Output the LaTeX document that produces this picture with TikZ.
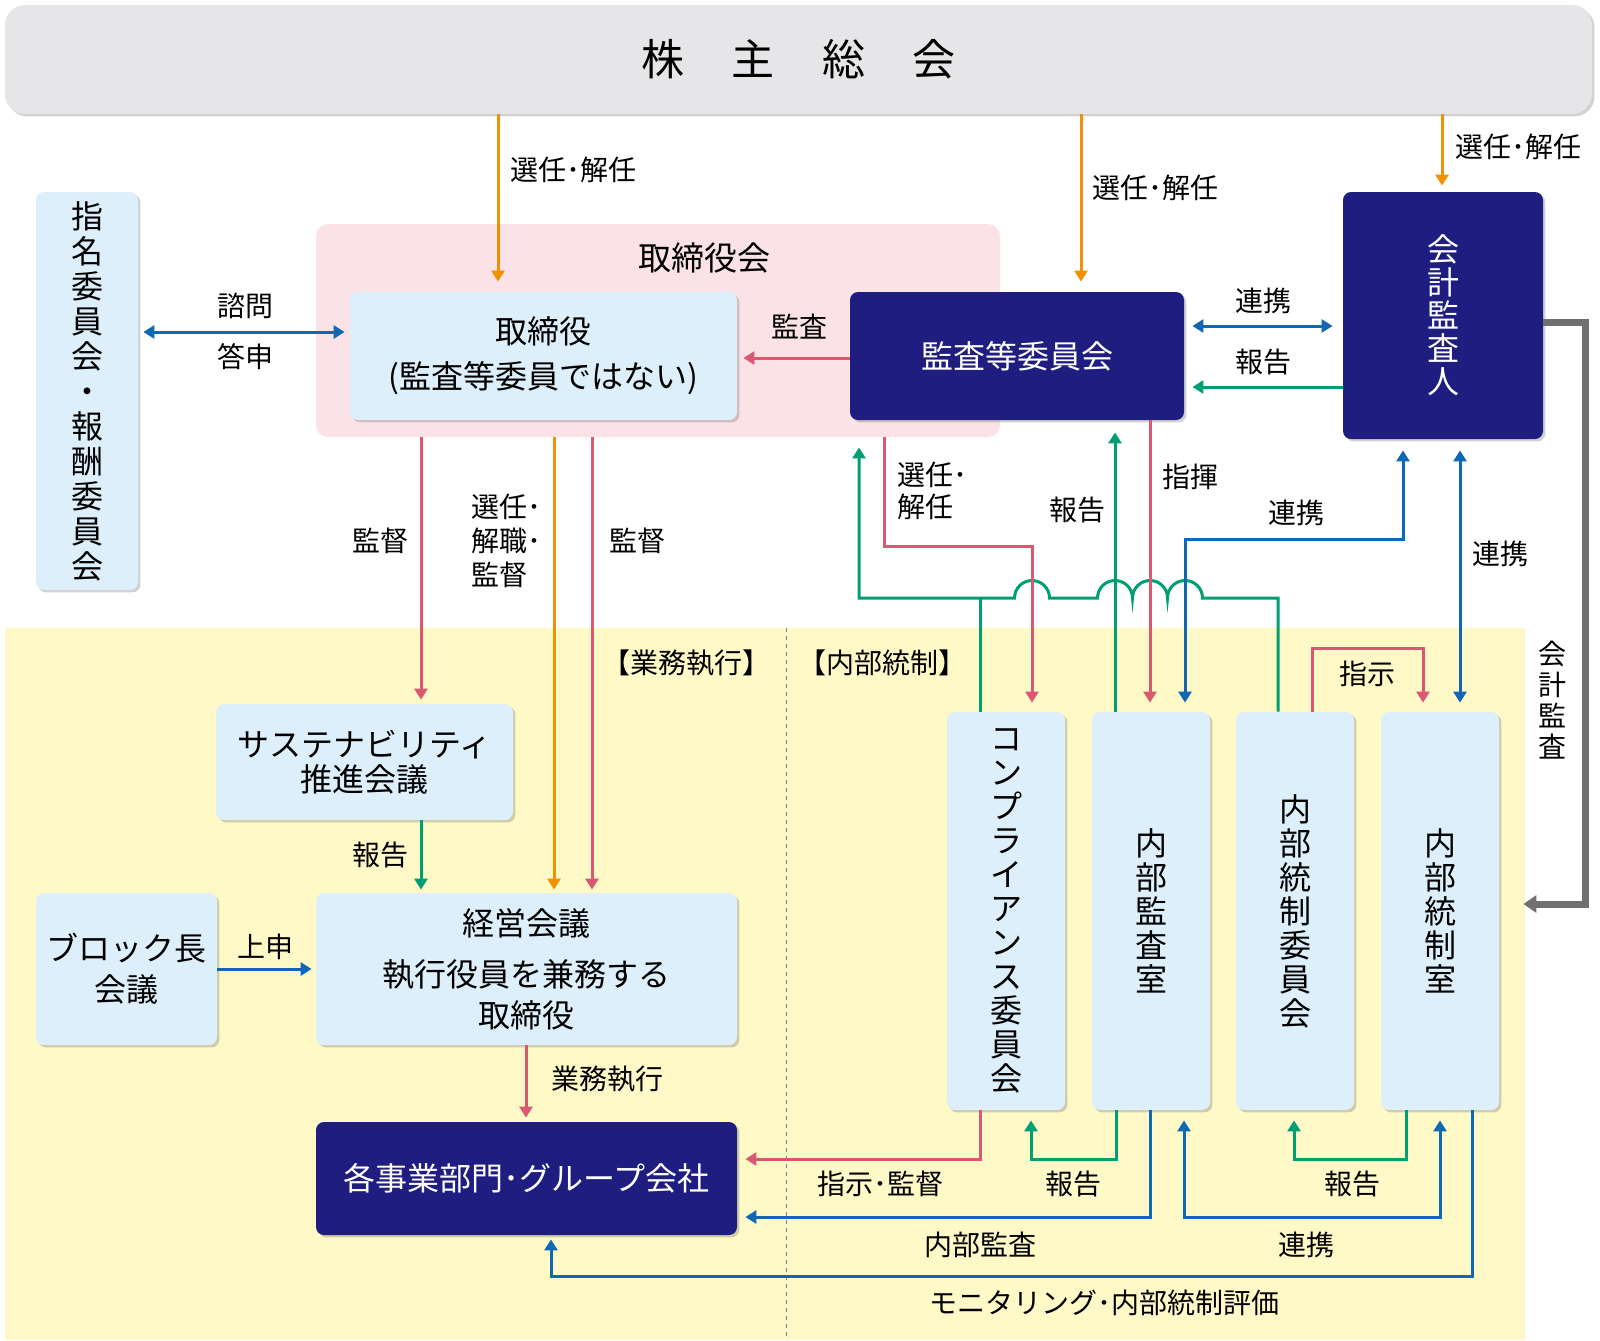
\documentclass[tikz,border=0pt]{standalone}
\usepackage{fontspec}
\setmainfont{Noto Sans CJK JP}
\usetikzlibrary{arrows.meta}
\usetikzlibrary{shadows}
\definecolor{navy}{RGB}{31,30,128}
\definecolor{paleblue}{RGB}{221,239,250}
\definecolor{palepink}{RGB}{251,226,230}
\definecolor{paleyellow}{RGB}{255,249,199}
\definecolor{soukaigray}{RGB}{230,230,232}
\definecolor{orangeline}{RGB}{239,145,0}
\definecolor{redline}{RGB}{219,88,115}
\definecolor{greenline}{RGB}{0,158,115}
\definecolor{blueline}{RGB}{16,104,180}
\definecolor{grayline}{RGB}{112,112,112}
\tikzset{
	lbox/.style={rectangle, rounded corners=4pt, fill=paleblue, text centered, align=center, font=\fontsize{16}{22.5}\selectfont, drop shadow={shadow xshift=1.2pt, shadow yshift=-1.2pt, opacity=0.3, fill=black!60}},
	dbox/.style={lbox, fill=navy, text=white},
	vbox/.style={lbox, font=\fontsize{16}{17}\selectfont, minimum width=59pt, minimum height=199pt},
	lbl/.style={font=\fontsize{14}{17}\selectfont, inner sep=0pt},
	tip/.style={-{Triangle[length=5.5pt,width=6.5pt]}},
	dtip/.style={{Triangle[length=5.5pt,width=6.5pt]}-{Triangle[length=5.5pt,width=6.5pt]}},
	oarr/.style={draw=orangeline, line width=1.5pt, tip},
	rarr/.style={draw=redline, line width=1.5pt, tip},
	garr/.style={draw=greenline, line width=1.5pt, tip},
	gline/.style={draw=greenline, line width=1.5pt},
	barr/.style={draw=blueline, line width=1.5pt, tip},
	bdarr/.style={draw=blueline, line width=1.5pt, dtip},
	grayarr/.style={draw=grayline, line width=3.5pt, -{Triangle[length=6.5pt,width=8.5pt]}},
}
\begin{document}
\begin{tikzpicture}[x=0.5pt, y=-0.5pt]
\useasboundingbox (0,0) rectangle (1600,1340);

% execution / internal control area
\fill [paleyellow] (5,628) rectangle (1525,1340);
\draw [gray, line width=0.5pt, dash pattern=on 2pt off 2pt] (786,628) -- (786,1340);

\node [rectangle, rounded corners=10pt, fill=soukaigray, minimum width=793.5pt, minimum height=54.5pt, font=\fontsize{21.5}{24}\selectfont, drop shadow={shadow xshift=1.2pt, shadow yshift=-1.2pt, opacity=0.3, fill=black!60}] (soukai) at (798.5,59.5) {株\hspace{1.1em}主\hspace{1.1em}総\hspace{1.1em}会};

\node [lbox, minimum width=51pt, minimum height=199pt, font=\fontsize{16}{17.5}\selectfont] (shimei) at (87,391) {指\\名\\委\\員\\会\\・\\報\\酬\\委\\員\\会};

\node [rectangle, rounded corners=6pt, fill=palepink, minimum width=342pt, minimum height=106.5pt] (board) at (658,330.5) {};
\node [font=\fontsize{16.5}{20}\selectfont, inner sep=0pt] (boardlbl) at (704,258) {取締役会};

\node [lbox, minimum width=193.5pt, minimum height=64pt] (tori) at (543.5,356) {取締役\\(監査等委員ではない)};
\node [dbox, minimum width=167pt, minimum height=64pt] (kansa) at (1017,356) {監査等委員会};
\node [dbox, minimum width=100pt, minimum height=123.5pt, font=\fontsize{16}{16.5}\selectfont] (kaikei) at (1443,315.5) {会\\計\\監\\査\\人};

\node [lbox, minimum width=148.5pt, minimum height=58pt, font=\fontsize{16}{17.5}\selectfont] (susta) at (364.5,762) {サステナビリティ\\推進会議};
\node [lbox, minimum width=90.5pt, minimum height=76pt, font=\fontsize{16}{20.5}\selectfont] (block) at (126.5,969) {ブロック長\\会議};
\node [lbox, minimum width=210.5pt, minimum height=76pt, font=\fontsize{16}{20.5}\selectfont] (keiei) at (526.5,969) {経営会議\\[5pt]執行役員を兼務する\\取締役};
\node [dbox, minimum width=210.5pt, minimum height=56.5pt] (jigyo) at (526.5,1178.5) {各事業部門･グループ会社};

\node [vbox] (comp) at (1006,911) {コ\\ン\\プ\\ラ\\イ\\ア\\ン\\ス\\委\\員\\会};
\node [vbox] (ikansa) at (1151,911) {内\\部\\監\\査\\室};
\node [vbox] (iiin) at (1295,911) {内\\部\\統\\制\\委\\員\\会};
\node [vbox] (tosei) at (1440,911) {内\\部\\統\\制\\室};

% from shareholders meeting
\draw [oarr, shorten >=5pt] (soukai.south -| 498,0) -- (tori.north -| 498,0); % to directors
\draw [oarr, shorten >=5pt] (soukai.south -| 1081,0) -- (kansa.north -| 1081,0); % to audit committee
\draw [oarr, shorten >=3pt] (soukai.south -| 1442,0) -- (kaikei.north -| 1442,0); % to auditor

% board level
\draw [bdarr, shorten <=2.5pt, shorten >=2.5pt] (shimei.east |- 0,332) -- (tori.west |- 0,332);
\draw [rarr, shorten >=3pt] (kansa.west |- 0,358) -- (tori.east |- 0,358);
\draw [bdarr, shorten <=4pt, shorten >=5pt] (kansa.east |- 0,326) -- (kaikei.west |- 0,326);
\draw [garr, shorten >=4pt] (kaikei.west |- 0,387) -- (kansa.east |- 0,387);
\draw [grayarr, shorten >=12pt] (kaikei.east |- 0,322) -| (1585,904) -- (tosei.east |- 0,904);

% execution side
\draw [rarr, shorten >=2pt] (board.south -| 421,0) -- (susta.north -| 421,0);
\draw [oarr, shorten >=1.5pt] (board.south -| 554,0) -- (keiei.north -| 554,0);
\draw [rarr, shorten >=1.5pt] (board.south -| 592,0) -- (keiei.north -| 592,0);
\draw [garr, shorten >=1.5pt] (susta.south -| 421,0) -- (keiei.north -| 421,0);
\draw [barr, shorten >=2pt] (block.east |- 0,969) -- (keiei.west |- 0,969);
\draw [rarr, shorten >=2pt] (keiei.south -| 526,0) -- (jigyo.north -| 526,0);

% internal control side, top
\coordinate (gjoin) at (980,598);
\draw [gline] (comp.north -| 980,0) -- (gjoin); % joins report line
\draw [garr, shorten >=13.5pt] (iiin.north -| 1278,0) |- (1202.5,598)
	arc [start angle=0, end angle=180, radius=8.75pt]
	arc [start angle=0, end angle=180, radius=8.75pt]
	arc [start angle=0, end angle=180, radius=8.75pt]
	-- (1049.5,598)
	arc [start angle=0, end angle=180, radius=8.75pt]
	-- (859,598) -- (kansa.south -| 859,0);
\draw [rarr, shorten >=4.5pt] (board.south -| 884,0) |- (1032,546) -- (comp.north -| 1032,0);
\draw [garr, shorten >=6pt] (ikansa.north -| 1115,0) -- (kansa.south -| 1115,0);
\draw [rarr, shorten >=4.5pt] (kansa.south -| 1150,0) -- (ikansa.north -| 1150,0);
\draw [bdarr, shorten <=4.5pt, shorten >=5.5pt] (ikansa.north -| 1185,0) |- (1403,539) -- (kaikei.south -| 1403,0);
\draw [bdarr, shorten <=4.5pt, shorten >=5.5pt] (tosei.north -| 1460,0) -- (kaikei.south -| 1460,0);
\draw [rarr, shorten >=4.5pt] (iiin.north -| 1312,0) |- (1423,648) -- (tosei.north -| 1423,0);

% internal control side, bottom
\draw [rarr, shorten >=4pt] (comp.south -| 980,0) |- (jigyo.east |- 0,1159);
\draw [garr, shorten >=5pt] (ikansa.south -| 1116,0) |- (1031,1159) -- (comp.south -| 1031,0);
\draw [barr, shorten >=4pt] (ikansa.south -| 1150,0) |- (jigyo.east |- 0,1217);
\draw [bdarr, shorten <=5pt, shorten >=5pt] (ikansa.south -| 1184,0) |- (1440,1217) -- (tosei.south -| 1440,0);
\draw [garr, shorten >=5pt] (tosei.south -| 1406,0) |- (1294,1159) -- (iiin.south -| 1294,0);
\draw [barr, shorten >=2pt] (tosei.south -| 1472,0) |- (551,1276) -- (jigyo.south -| 551,0);

% labels
\node [lbl, anchor=west] (l1) at (510,170) {選任･解任};
\node [lbl, anchor=west] (l2) at (1092,188) {選任･解任};
\node [lbl, anchor=west] (l3) at (1455,147) {選任･解任};
\node [lbl] (l4) at (245,306) {諮問};
\node [lbl] (l5) at (245,357) {答申};
\node [lbl] (l6) at (799,327) {監査};
\node [lbl] (l7) at (1263,301) {連携};
\node [lbl] (l8) at (1263,362) {報告};
\node [lbl, align=center, font=\fontsize{14}{15.5}\selectfont] (l9) at (1552,700) {会\\計\\監\\査};
\node [lbl] (l10) at (380,541) {監督};
\node [lbl, anchor=west, align=left] (l11) at (471,541) {選任･\\解職･\\監督};
\node [lbl] (l12) at (637,541) {監督};
\node [lbl] (l13) at (380,855) {報告};
\node [lbl] (l14) at (265,947) {上申};
\node [lbl, anchor=west] (l15) at (551,1079) {業務執行};
\node [lbl, anchor=west, align=left, font=\fontsize{14}{16}\selectfont] (l16) at (897,491) {選任･\\解任};
\node [lbl] (l17) at (1077,510) {報告};
\node [lbl] (l18) at (1190,477) {指揮};
\node [lbl] (l19) at (1296,513) {連携};
\node [lbl] (l20) at (1500,554) {連携};
\node [lbl] (l21) at (1367,674) {指示};
\node [lbl] (l22) at (880,1184) {指示･監督};
\node [lbl] (l23) at (1073,1184) {報告};
\node [lbl] (l24) at (980,1245) {内部監査};
\node [lbl] (l25) at (1306,1245) {連携};
\node [lbl] (l26) at (1352,1184) {報告};
\node [lbl] (l27) at (1104,1303) {モニタリング･内部統制評価};
\node [lbl] (l28) at (686,663) {【業務執行】};
\node [lbl] (l29) at (882,663) {【内部統制】};
\end{tikzpicture}
\end{document}
